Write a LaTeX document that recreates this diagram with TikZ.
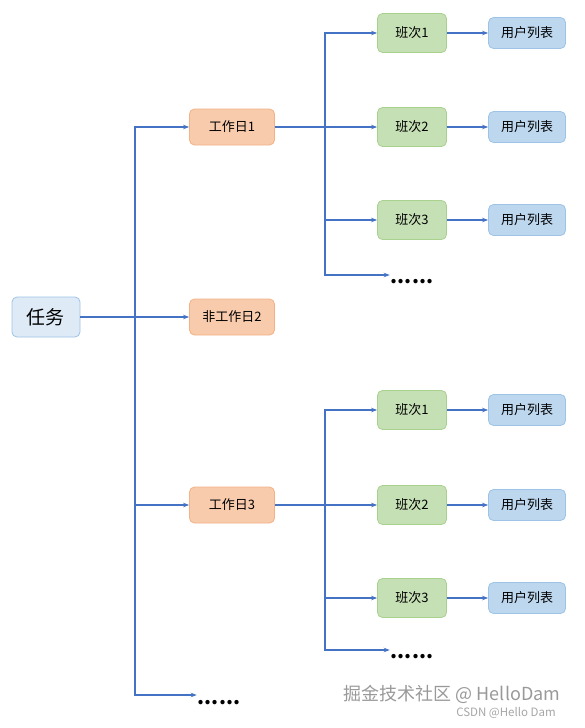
\documentclass[tikz,border=0pt]{standalone}
\usepackage{fontspec}
\setmainfont{Noto Sans CJK SC}
\usepackage{xcolor}
\usetikzlibrary{arrows.meta}

\definecolor{linkblue}{HTML}{4472C4}
\definecolor{rootfill}{HTML}{DEEBF7}
\definecolor{rootdraw}{HTML}{9DC3E6}
\definecolor{dayfill}{HTML}{F8CBAD}
\definecolor{daydraw}{HTML}{F4B183}
\definecolor{shiftfill}{HTML}{C5E0B4}
\definecolor{shiftdraw}{HTML}{A9D18E}
\definecolor{userfill}{HTML}{BDD7EE}
\definecolor{userdraw}{HTML}{9DC3E6}

\tikzset{
  box/.style={rounded corners=5pt, line width=0.8pt, inner sep=0pt, font=\fontsize{13}{15}\selectfont},
  rootbox/.style={box, draw=rootdraw, fill=rootfill, minimum width=68pt, minimum height=40pt, font=\fontsize{19}{22}\selectfont},
  daybox/.style={box, draw=daydraw, fill=dayfill, minimum width=85pt, minimum height=36pt},
  shiftbox/.style={box, draw=shiftdraw, fill=shiftfill, minimum width=69pt, minimum height=39pt},
  userbox/.style={box, draw=userdraw, fill=userfill, minimum width=77pt, minimum height=31pt},
  more/.style={inner sep=1pt, font=\fontsize{20}{22}\selectfont\bfseries},
  link/.style={draw=linkblue, line width=1.4pt, -{Stealth[length=6pt,width=4.5pt]}}
}

\begin{document}
\begin{tikzpicture}[x=1pt, y=-1pt]
    \useasboundingbox (0,0) rectangle (585,728);
    \node[rootbox] (t) at (46, 317) {任务};
    \node[daybox] (w1) at (232, 127) {工作日1};
    \node[daybox] (w2) at (232, 317) {非工作日2};
    \node[daybox] (w3) at (232, 505) {工作日3};
    \node[more] (d0) at (219, 703) {......};
    \coordinate (s0) at (135, 317);
    % first working day
    \node[shiftbox] (a1) at (412, 33) {班次1};
    \node[shiftbox] (a2) at (412, 127) {班次2};
    \node[shiftbox] (a3) at (412, 220) {班次3};
    \node[more] (d1) at (412, 282) {......};
    \node[userbox] (u1) at (527, 33) {用户列表};
    \node[userbox] (u2) at (527, 127) {用户列表};
    \node[userbox] (u3) at (527, 220) {用户列表};
    \coordinate (s1) at (325, 127);
    % third working day
    \node[shiftbox] (b1) at (412, 410) {班次1};
    \node[shiftbox] (b2) at (412, 505) {班次2};
    \node[shiftbox] (b3) at (412, 598) {班次3};
    \node[more] (d3) at (412, 657) {......};
    \node[userbox] (v1) at (527, 410) {用户列表};
    \node[userbox] (v2) at (527, 505) {用户列表};
    \node[userbox] (v3) at (527, 598) {用户列表};
    \coordinate (s3) at (325, 505);
    % watermark
    \node[text=gray!80, font=\fontsize{18}{20}\selectfont] (m1) at (452, 694) {掘金技术社区 @ HelloDam};
    \node[text=gray!70, font=\fontsize{11.5}{13}\selectfont] (m2) at (506, 713) {CSDN @Hello Dam};
    \draw [link] (t.east) -- (w2);
    \draw [link] (s0) |- (w1);
    \draw [link] (s0) |- (w3);
    \draw [link] (s0) |- ([yshift=8pt]d0.west);
    \draw [link] (w1) -- (a2);
    \draw [link] (s1) |- (a1);
    \draw [link] (s1) |- (a3);
    \draw [link] (s1) |- ([yshift=7pt]d1.west);
    \draw [link] (a1) -- (u1);
    \draw [link] (a2) -- (u2);
    \draw [link] (a3) -- (u3);
    \draw [link] (w3) -- (b2);
    \draw [link] (s3) |- (b1);
    \draw [link] (s3) |- (b3);
    \draw [link] (s3) |- ([yshift=7pt]d3.west);
    \draw [link] (b1) -- (v1);
    \draw [link] (b2) -- (v2);
    \draw [link] (b3) -- (v3);
  \end{tikzpicture}
\end{document}
